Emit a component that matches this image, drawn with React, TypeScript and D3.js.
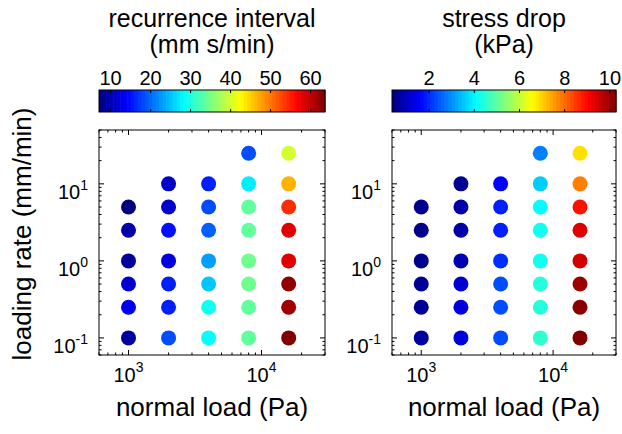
import React from "react";
import * as d3 from "d3";

const loads = [1000, 2000, 4000, 8000, 16000];
const rates = [0.1, 0.25, 0.5, 1, 2.5, 5, 10, 25];

// recurrence interval (mm s/min), one array per normal load, indexed by rate (null = no data)
const ri1000 = [8.8, 13.3, 11.6, 8.8, 9.4, 7.1, null, null];
const ri2000 = [18.4, 15.9, 15.9, 12.2, 15.0, 11.6, 11.1, null];
const ri4000 = [28.3, 29.1, 25.2, 22.9, 19.5, 18.4, 15.9, null];
const ri8000 = [33.7, 33.7, 34.5, 34.5, 33.7, 33.7, 27.4, 18.4];
const ri16000 = [63.6, 61.8, 62.7, 58.2, 58.2, 54.0, 46.6, 39.9];

// stress drop (kPa)
const sd1000 = [0.66, 0.56, 0.56, 0.51, 0.51, 0.51, null, null];
const sd2000 = [1.25, 1.25, 1.15, 0.86, 0.76, 0.76, 0.56, null];
const sd4000 = [2.34, 2.34, 2.34, 2.04, 1.9, 1.9, 1.6, null];
const sd8000 = [4.52, 4.42, 4.42, 4.22, 4.22, 4.08, 3.58, 2.84];
const sd16000 = [10.27, 10.17, 9.97, 9.48, 9.33, 8.88, 7.79, 6.85];

const riTicks = [10, 20, 30, 40, 50, 60];
const sdTicks = [2, 4, 6, 8, 10];
const riDomain = [7.1, 63.6];
const sdDomain = [0.36, 10.27];
const xMajor = [1000, 10000];
const yMajor = [0.1, 1, 10];
const xDomain = [600, 30000];
const yDomain = [0.06, 50];

const riCols = [ri1000, ri2000, ri4000, ri8000, ri16000];
const sdCols = [sd1000, sd2000, sd4000, sd8000, sd16000];

const clamp = (v: number) => Math.max(0, Math.min(1, v));
function jet(t: number) {
  t = clamp(t);
  const r = clamp(1.5 - Math.abs(4 * t - 3));
  const g = clamp(1.5 - Math.abs(4 * t - 2));
  const b = clamp(1.5 - Math.abs(4 * t - 1));
  return d3.rgb(r * 255, g * 255, b * 255).formatHex();
}

const FONT = "'Liberation Sans', Arial, Helvetica, sans-serif";

function minorTicks(lo: number, hi: number) {
  const out: number[] = [];
  for (let e = Math.floor(Math.log10(lo)); e <= Math.ceil(Math.log10(hi)); e++) {
    for (let m = 1; m <= 9; m++) {
      const v = m * Math.pow(10, e);
      if (v >= lo && v <= hi && m !== 1) out.push(v);
    }
  }
  return out;
}

function Panel({ x0, x1, cols, cDomain, cTicks, title1, title2 }: any) {
  const top = 130, bottom = 355;
  const xs = d3.scaleLog().domain(xDomain).range([x0, x1]);
  const ys = d3.scaleLog().domain(yDomain).range([bottom, top]);
  const color = d3.scaleSequential((t: number) => jet(t)).domain(cDomain);
  const cb = d3.scaleLinear().domain(cDomain).range([x0, x1]);
  const cbTop = 90, cbBot = 112;
  const nBands = 64;
  const bandVals = d3.range(nBands).map((i) => cDomain[0] + ((i + 0.5) / nBands) * (cDomain[1] - cDomain[0]));
  const bw = (x1 - x0) / nBands;
  const xMinor = minorTicks(xDomain[0], xDomain[1]);
  const yMinor = minorTicks(yDomain[0], yDomain[1]);
  const pts: any[] = [];
  cols.forEach((col: (number | null)[], i: number) => {
    col.forEach((v, j) => {
      if (v != null) pts.push({ x: loads[i], y: rates[j], v });
    });
  });
  const cx = (x0 + x1) / 2;
  return (
    <g>
      <text x={cx} y={27} textAnchor="middle" fontSize={25} fontFamily={FONT}>{title1}</text>
      <text x={cx} y={53} textAnchor="middle" fontSize={25} fontFamily={FONT}>{title2}</text>
      {bandVals.map((v, i) => (
        <rect key={i} x={x0 + i * bw} y={cbTop} width={bw + 0.6} height={cbBot - cbTop} fill={color(v)} />
      ))}
      <rect x={x0} y={cbTop} width={x1 - x0} height={cbBot - cbTop} fill="none" stroke="#000" strokeWidth={1} />
      {cTicks.map((t: number) => (
        <g key={t}>
          <line x1={cb(t)} x2={cb(t)} y1={cbTop} y2={cbTop + 3} stroke="#000" />
          <line x1={cb(t)} x2={cb(t)} y1={cbBot} y2={cbBot - 3} stroke="#000" />
          <text x={cb(t)} y={85} textAnchor="middle" fontSize={20} fontFamily={FONT}>{t}</text>
        </g>
      ))}
      <rect x={x0} y={top} width={x1 - x0} height={bottom - top} fill="#fff" stroke="#000" strokeWidth={1} />
      {xMajor.map((t) => (
        <g key={t}>
          <line x1={xs(t)} x2={xs(t)} y1={bottom} y2={bottom - 5} stroke="#000" />
          <line x1={xs(t)} x2={xs(t)} y1={top} y2={top + 5} stroke="#000" />
          <text x={xs(t)} y={382} textAnchor="middle" fontSize={20} fontFamily={FONT}>
            10<tspan fontSize={14} dy={-10}>{Math.round(Math.log10(t))}</tspan>
          </text>
        </g>
      ))}
      {xMinor.map((t) => (
        <g key={"m" + t}>
          <line x1={xs(t)} x2={xs(t)} y1={bottom} y2={bottom - 2.5} stroke="#000" />
          <line x1={xs(t)} x2={xs(t)} y1={top} y2={top + 2.5} stroke="#000" />
        </g>
      ))}
      {yMajor.map((t) => (
        <g key={t}>
          <line x1={x0} x2={x0 + 5} y1={ys(t)} y2={ys(t)} stroke="#000" />
          <line x1={x1} x2={x1 - 5} y1={ys(t)} y2={ys(t)} stroke="#000" />
          <text x={x0 - 11} y={ys(t) + 15} textAnchor="end" fontSize={20} fontFamily={FONT}>
            10<tspan fontSize={14} dy={-9}>{Math.round(Math.log10(t))}</tspan>
          </text>
        </g>
      ))}
      {yMinor.map((t) => (
        <g key={"m" + t}>
          <line x1={x0} x2={x0 + 2.5} y1={ys(t)} y2={ys(t)} stroke="#000" />
          <line x1={x1} x2={x1 - 2.5} y1={ys(t)} y2={ys(t)} stroke="#000" />
        </g>
      ))}
      {pts.map((p, i) => (
        <circle key={i} cx={xs(p.x)} cy={ys(p.y)} r={7.5} fill={color(p.v)} />
      ))}
      <text x={cx} y={416} textAnchor="middle" fontSize={26} fontFamily={FONT}>normal load (Pa)</text>
    </g>
  );
}

export default function App() {
  return (
    <svg width={622} height={434} style={{ position: "absolute", left: 0, top: 0, background: "#fff" }}>
      <rect x={0} y={0} width={622} height={434} fill="#fff" />
      <Panel x0={99} x1={325} cols={riCols} cDomain={riDomain} cTicks={riTicks} title1="recurrence interval" title2="(mm s/min)" />
      <Panel x0={392} x1={616} cols={sdCols} cDomain={sdDomain} cTicks={sdTicks} title1="stress drop" title2="(kPa)" />
      <text transform="translate(31,234) rotate(-90)" textAnchor="middle" fontSize={26} fontFamily={FONT}>loading rate (mm/min)</text>
    </svg>
  );
}
